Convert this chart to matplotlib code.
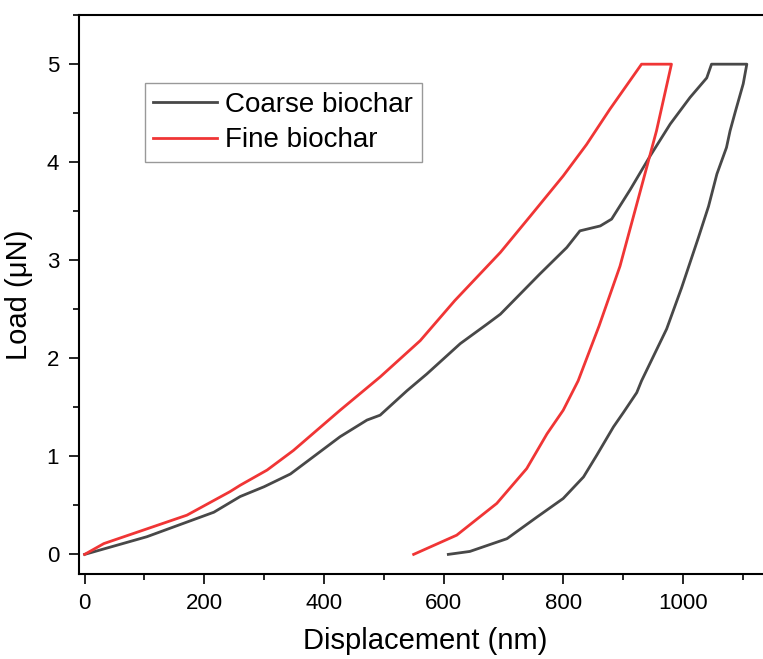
import matplotlib
matplotlib.use("Agg")
import matplotlib.pyplot as plt
from matplotlib.ticker import MultipleLocator

plt.rcParams['font.family'] = ['Liberation Sans', 'DejaVu Sans']

# coarse biochar: loading, hold, unloading
coarse_disp = [0, 104, 216, 260, 300, 344, 427, 472, 494, 539, 572, 628, 673, 695,
               761, 806, 828, 862, 881, 912, 945, 979, 1012, 1040, 1048,
               1107, 1101, 1088, 1079, 1073, 1057, 1043, 1026, 998, 973, 931,
               923, 901, 884, 856, 834, 800, 756, 706, 644, 608]
coarse_load = [0, 0.18, 0.43, 0.59, 0.69, 0.82, 1.20, 1.37, 1.42, 1.67, 1.84, 2.15, 2.35, 2.45,
               2.86, 3.13, 3.30, 3.35, 3.42, 3.72, 4.06, 4.39, 4.66, 4.86, 5.0,
               5.0, 4.8, 4.52, 4.32, 4.15, 3.88, 3.55, 3.23, 2.72, 2.30, 1.77,
               1.65, 1.45, 1.30, 1.01, 0.79, 0.57, 0.38, 0.16, 0.03, 0]

# fine biochar
fine_disp = [0, 32, 104, 171, 243, 260, 305, 349, 427, 494, 561, 619, 695,
             745, 800, 839, 878, 931, 981, 956, 934, 895, 860, 825, 800, 773,
             739, 689, 622, 550]
fine_load = [0, 0.11, 0.26, 0.40, 0.64, 0.705, 0.86, 1.06, 1.47, 1.81, 2.18, 2.59, 3.08,
             3.45, 3.86, 4.18, 4.54, 5.0, 5.0, 4.32, 3.82, 2.94, 2.33, 1.77, 1.47, 1.23,
             0.875, 0.52, 0.196, 0]

fig = plt.figure(figsize=(7.63, 6.59), dpi=100)
ax = fig.add_axes([0.1031, 0.129, 0.9094, 0.848])

ax.plot(coarse_disp, coarse_load, color='#484848', lw=2, label='Coarse biochar')
ax.plot(fine_disp, fine_load, color='#f03535', lw=2, label='Fine biochar')

ax.set_xlim(-10, 1150)
ax.set_ylim(-0.2, 5.5)
ax.xaxis.set_major_locator(MultipleLocator(200))
ax.xaxis.set_minor_locator(MultipleLocator(100))
ax.yaxis.set_major_locator(MultipleLocator(1))
ax.yaxis.set_minor_locator(MultipleLocator(0.5))
ax.tick_params(which='major', direction='out', length=7, width=1.2, labelsize=16, pad=7)
ax.tick_params(which='minor', direction='out', length=4, width=1.2)
for s in ax.spines.values():
    s.set_linewidth(1.5)

ax.set_xlabel('Displacement (nm)', fontsize=21, labelpad=9)
ax.set_ylabel('Load (μN)', fontsize=21, labelpad=10)

leg = ax.legend(loc='upper left', bbox_to_anchor=(0.0955, 0.878), borderaxespad=0,
                fontsize=20, frameon=True, fancybox=False, handlelength=2.3,
                handletextpad=0.3, borderpad=0.3, labelspacing=0.35)
leg.get_frame().set_edgecolor('#808080')
leg.get_frame().set_linewidth(1.0)

fig.savefig('out.png', dpi=100)
